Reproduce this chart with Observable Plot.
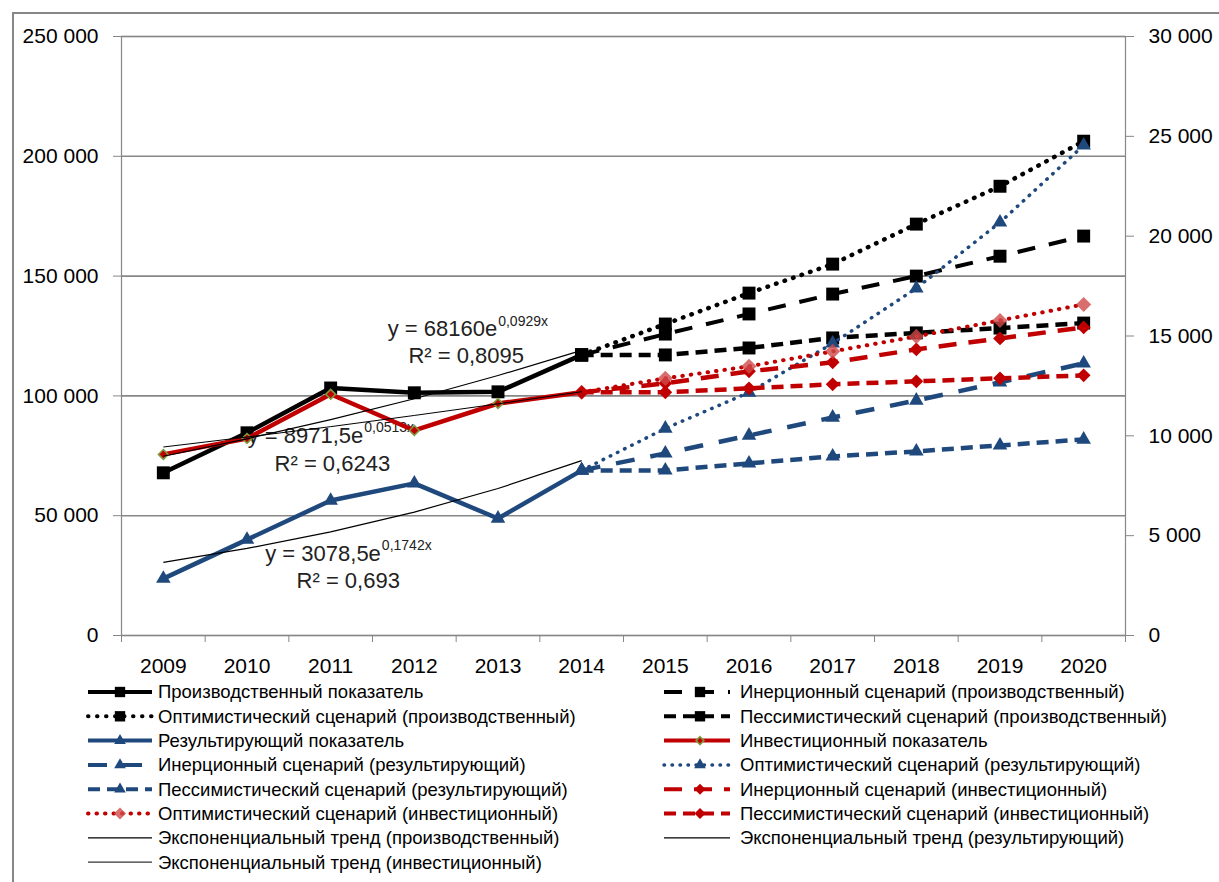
<!DOCTYPE html>
<html><head><meta charset="utf-8">
<script src="https://cdn.jsdelivr.net/npm/d3@7"></script>
<script src="https://cdn.jsdelivr.net/npm/@observablehq/plot@0.6"></script>
<style>
html,body{margin:0;padding:0;background:#fff;overflow:hidden;}
#wrap{position:relative;width:1219px;height:882px;overflow:hidden;font-family:"Liberation Sans",Arial,sans-serif;background:#fff;}
#border{position:absolute;left:12px;top:12px;width:1300px;height:1000px;border:2.5px solid #878787;box-sizing:border-box;}
#chart{position:absolute;left:0;top:0;}
#legend{position:absolute;left:0;top:680px;}
</style></head><body>
<div id="wrap"><div id="border"></div><div id="chart"></div><div id="legend"></div></div>
<script>
// ---------- data ----------
const years = [2009, 2010, 2011, 2012, 2013, 2014, 2015, 2016, 2017, 2018, 2019, 2020];
const actualYears = [2009, 2010, 2011, 2012, 2013, 2014];
const scenarioYears = [2014, 2015, 2016, 2017, 2018, 2019, 2020];

// left axis
const production      = [67900, 84600, 103300, 101300, 101700, 117100];
const prodInertia     = [117100, 125800, 134200, 142500, 150000, 158300, 166700];
const prodOptimistic  = [117100, 130000, 142900, 155000, 171700, 187500, 206300];
const prodPessimistic = [117100, 117100, 120000, 124200, 126300, 128300, 130400];
// right axis
const resulting       = [2850, 4800, 6760, 7620, 5860, 8270];
const resInertia      = [8270, 9120, 10020, 10920, 11770, 12680, 13630];
const resOptimistic   = [8270, 10370, 12170, 14630, 17390, 20690, 24550];
const resPessimistic  = [8270, 8270, 8620, 8970, 9220, 9520, 9820];
const investment      = [9070, 9870, 12080, 10270, 11620, 12180];
const invInertia      = [12180, 12630, 13230, 13680, 14330, 14880, 15430];
const invOptimistic   = [12180, 12880, 13480, 14230, 14980, 15780, 16580];
const invPessimistic  = [12180, 12180, 12380, 12580, 12730, 12880, 13030];
// exponential trends
const trendProd = [74800, 82100, 90100, 98800, 108500, 119000];
const trendRes  = [3660, 4360, 5190, 6180, 7360, 8760];
const trendInv  = [9440, 9940, 10460, 11020, 11600, 12210];

const leftTicks  = [0, 50000, 100000, 150000, 200000, 250000];
const rightTicks = [0, 5000, 10000, 15000, 20000, 25000, 30000];

const seriesNames = [
  "Производственный показатель",
  "Инерционный сценарий (производственный)",
  "Оптимистический сценарий (производственный)",
  "Пессимистический сценарий (производственный)",
  "Результирующий показатель",
  "Инвестиционный показатель",
  "Инерционный сценарий (результирующий)",
  "Оптимистический сценарий (результирующий)",
  "Пессимистический сценарий (результирующий)",
  "Инерционный сценарий (инвестиционный)",
  "Оптимистический сценарий (инвестиционный)",
  "Пессимистический сценарий (инвестиционный)",
  "Экспоненциальный тренд (производственный)",
  "Экспоненциальный тренд (результирующий)",
  "Экспоненциальный тренд (инвестиционный)"
];

const equations = [
  {base: "y = 68160e", exp: "0,0929x", r2: "R² = 0,8095"},
  {base: "y = 8971,5e", exp: "0,0513x", r2: "R² = 0,6243"},
  {base: "y = 3078,5e", exp: "0,1742x", r2: "R² = 0,693"}
];

// ---------- styles ----------
const BLACK = "#000000", BLUE = "#1F497D", RED = "#C00000";
const styles = [
  {stroke: BLACK, w: 4.5, sym: "square", r: 7.3, fill: BLACK},
  {stroke: BLACK, w: 4, dash: "18,14", sym: "square", r: 7.3, fill: BLACK},
  {stroke: BLACK, w: 4.5, dash: "0.5,8.5", cap: "round", sym: "square", r: 7.3, fill: BLACK},
  {stroke: BLACK, w: 4.5, dash: "12,7", sym: "square", r: 7.3, fill: BLACK},
  {stroke: BLUE, w: 4.5, sym: "triangle", r: 5.4, fill: BLUE},
  {stroke: RED, w: 4.5, sym: "diamond2", r: 4.4, fill: RED, ms: "#7F9A3D", msw: 1.6},
  {stroke: BLUE, w: 4.5, dash: "19,16", sym: "triangle", r: 5.4, fill: BLUE},
  {stroke: BLUE, w: 3.5, dash: "0.5,7.5", cap: "round", sym: "triangle", r: 5.4, fill: BLUE},
  {stroke: BLUE, w: 4.5, dash: "12,7", sym: "triangle", r: 5.4, fill: BLUE},
  {stroke: RED, w: 4.5, dash: "18,12", sym: "diamond2", r: 6.2, fill: RED},
  {stroke: RED, w: 4, dash: "0.5,8", cap: "round", sym: "diamond2", r: 6.8, fill: "#D04A4A", fo: 0.8},
  {stroke: RED, w: 4.5, dash: "12,7", sym: "diamond2", r: 6.2, fill: RED},
  {stroke: BLACK, w: 1.2},
  {stroke: BLACK, w: 1.2},
  {stroke: BLACK, w: 1}
];

const k = 250000 / 30000; // right axis -> left axis units
const nf = d3.formatLocale({decimal: ",", thousands: "\u00a0", grouping: [3], currency: ["", ""]}).format(",d");

function seriesMarks(vals, yrs, st, right) {
  const data = vals.map((v, i) => ({year: yrs[i], value: right ? v * k : v}));
  const m = [Plot.line(data, {x: "year", y: "value", stroke: st.stroke, strokeWidth: st.w,
    strokeDasharray: st.dash, strokeLinecap: st.cap || "butt", strokeLinejoin: "round"})];
  if (st.sym) m.push(Plot.dot(data, {x: "year", y: "value", symbol: st.sym, r: st.r, fill: st.fill,
    fillOpacity: st.fo == null ? 1 : st.fo, stroke: st.ms || "none", strokeWidth: st.msw || 0}));
  return m;
}

const boundaries = years.map(y => y - 0.5).concat([years[years.length - 1] + 0.5]);
const GRID = "#878787";

const eqPos = [
  {x: 2012.99, y: 127900, rx: 2012.62, ry: 116700},
  {x: 2011.39, y: 83300, rx: 2011.02, ry: 71700},
  {x: 2011.60, y: 34200, rx: 2011.21, ry: 22900}
];
const eqData = equations.map((e, i) => ({...e, ...eqPos[i]}));

const chart = Plot.plot({
  width: 1219, height: 680,
  marginLeft: 121, marginRight: 94, marginTop: 36, marginBottom: 45,
  style: {fontFamily: "'Liberation Sans', Arial, sans-serif", fontSize: "21px", color: "#000", background: "transparent", overflow: "visible"},
  x: {type: "linear", domain: [years[0] - 0.5, years[years.length - 1] + 0.5]},
  y: {domain: [0, 250000]},
  marks: [
    Plot.gridY(leftTicks, {stroke: GRID, strokeOpacity: 1, strokeWidth: 1.6}),
    Plot.frame({stroke: GRID, strokeWidth: 1.2}),
    Plot.axisY(leftTicks, {anchor: "left", tickSize: 8, tickPadding: 15, tickFormat: nf, stroke: GRID, fill: "#000", fontSize: 21}),
    Plot.axisY(rightTicks.map(d => d * k), {anchor: "right", tickSize: 8, tickPadding: 15,
      tickFormat: d => nf(Math.round(d / k)), stroke: GRID, fill: "#000", fontSize: 21}),
    Plot.axisX(years, {anchor: "bottom", tickSize: 0, tickPadding: 23, tickFormat: d => String(d), fill: "#000", fontSize: 21}),
    Plot.axisX(boundaries, {anchor: "bottom", tickSize: 7, tickFormat: () => "", stroke: GRID}),
    // equation labels
    Plot.text(eqData, {x: "x", y: "y", text: "base", textAnchor: "end", fontSize: 22, fill: "#222"}),
    Plot.text(eqData, {x: "x", y: "y", text: "exp", textAnchor: "start", fontSize: 14, dy: -8, dx: 1, fill: "#222"}),
    Plot.text(eqData, {x: "rx", y: "ry", text: "r2", textAnchor: "middle", fontSize: 22, fill: "#222"}),
    // series
    ...seriesMarks(production, actualYears, styles[0], false),
    ...seriesMarks(prodInertia, scenarioYears, styles[1], false),
    ...seriesMarks(prodOptimistic, scenarioYears, styles[2], false),
    ...seriesMarks(prodPessimistic, scenarioYears, styles[3], false),
    ...seriesMarks(resulting, actualYears, styles[4], true),
    ...seriesMarks(investment, actualYears, styles[5], true),
    ...seriesMarks(resInertia, scenarioYears, styles[6], true),
    ...seriesMarks(resOptimistic, scenarioYears, styles[7], true),
    ...seriesMarks(resPessimistic, scenarioYears, styles[8], true),
    ...seriesMarks(invInertia, scenarioYears, styles[9], true),
    ...seriesMarks(invOptimistic, scenarioYears, styles[10], true),
    ...seriesMarks(invPessimistic, scenarioYears, styles[11], true),
    ...seriesMarks(trendProd, actualYears, styles[12], false),
    ...seriesMarks(trendRes, actualYears, styles[13], true),
    ...seriesMarks(trendInv, actualYears, styles[14], true)
  ]
});
document.getElementById("chart").appendChild(chart);

// ---------- legend ----------
const symMap = {square: d3.symbolSquare, triangle: d3.symbolTriangle, diamond2: d3.symbolDiamond2};
const lg = d3.create("svg").attr("width", 1219).attr("height", 202)
  .style("font-family", "'Liberation Sans', Arial, sans-serif").style("font-size", "18.5px");
seriesNames.forEach((name, i) => {
  const st = styles[i];
  const col = i % 2, row = Math.floor(i / 2);
  const y = 12 + row * 24.3;
  const x0 = col ? 664 : 88, x1 = col ? 730 : 152, xm = col ? 700 : 120, tx = col ? 740 : 158;
  lg.append("line").attr("x1", x0).attr("x2", x1).attr("y1", y).attr("y2", y)
    .attr("stroke", st.stroke).attr("stroke-width", Math.min(st.w, 4))
    .attr("stroke-dasharray", st.dash || null).attr("stroke-linecap", st.cap || "butt");
  if (st.sym) {
    lg.append("path").attr("transform", `translate(${xm},${y})`)
      .attr("d", d3.symbol(symMap[st.sym], Math.PI * Math.pow(st.r * 0.8, 2))())
      .attr("fill", st.fill).attr("fill-opacity", st.fo == null ? 1 : st.fo)
      .attr("stroke", st.ms || "none").attr("stroke-width", st.msw || 0);
  }
  lg.append("text").attr("x", tx).attr("y", y).attr("dy", "0.35em").attr("fill", "#000").text(name);
});
document.getElementById("legend").appendChild(lg.node());
</script>
</body></html>
